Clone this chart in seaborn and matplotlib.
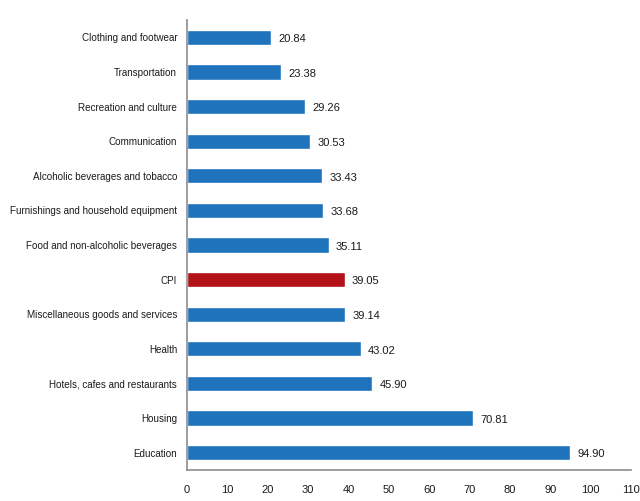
import matplotlib
matplotlib.use("Agg")
import matplotlib.pyplot as plt
import numpy as np
import pandas as pd
import seaborn as sns

sns.set_style("white")
plt.rcParams['font.family'] = ['Liberation Sans', 'DejaVu Sans']

categories = [
    "Clothing and footwear",
    "Transportation",
    "Recreation and culture",
    "Communication",
    "Alcoholic beverages and tobacco",
    "Furnishings and household equipment",
    "Food and non-alcoholic beverages",
    "CPI",
    "Miscellaneous goods and services",
    "Health",
    "Hotels, cafes and restaurants",
    "Housing",
    "Education",
]
values = [20.84, 23.38, 29.26, 30.53, 33.43, 33.68, 35.11, 39.05, 39.14, 43.02, 45.90, 70.81, 94.90]
value_labels = ["20.84", "23.38", "29.26", "30.53", "33.43", "33.68", "35.11", "39.05", "39.14",
                "43.02", "45.90", "70.81", "94.90"]
x_ticks = [0, 10, 20, 30, 40, 50, 60, 70, 80, 90, 100, 110]

blue = "#1f73bd"
red = "#b01218"
colors = [red if c == "CPI" else blue for c in categories]

df = pd.DataFrame({"category": categories, "value": values})

fig = plt.figure(figsize=(6.4, 5.01), dpi=100)
ax = fig.add_axes([0.292, 0.062, 0.694, 0.898])

sns.barplot(ax=ax, data=df, x="value", y="category", hue="category", palette=colors,
            legend=False, width=0.44, saturation=1, orient="h")

for i, (v, lab) in enumerate(zip(values, value_labels)):
    ax.text(v + 1.8, i + 0.05, lab, va="center", ha="left", fontsize=8, color="#1a1a1a")

ax.set_xlim(0, 110)
ax.set_ylim(12.5, -0.5)
ax.set_xticks(x_ticks)
ax.set_xlabel("")
ax.set_ylabel("")

for s in ["top", "right"]:
    ax.spines[s].set_visible(False)
for s in ["left", "bottom"]:
    ax.spines[s].set_color("#8c8c8c")
    ax.spines[s].set_linewidth(1.2)

ax.tick_params(axis="y", which="major", length=0, labelsize=7.1, pad=7, labelcolor="#1a1a1a")
ax.set_yticks(np.arange(-0.5, 13, 1), minor=True)
ax.tick_params(axis="y", which="minor", length=4, direction="out", color="#8c8c8c")
ax.tick_params(axis="x", length=4, direction="inout", color="#8c8c8c", labelsize=8,
               pad=9, labelcolor="#1a1a1a")

fig.savefig("out.png", dpi=100)
